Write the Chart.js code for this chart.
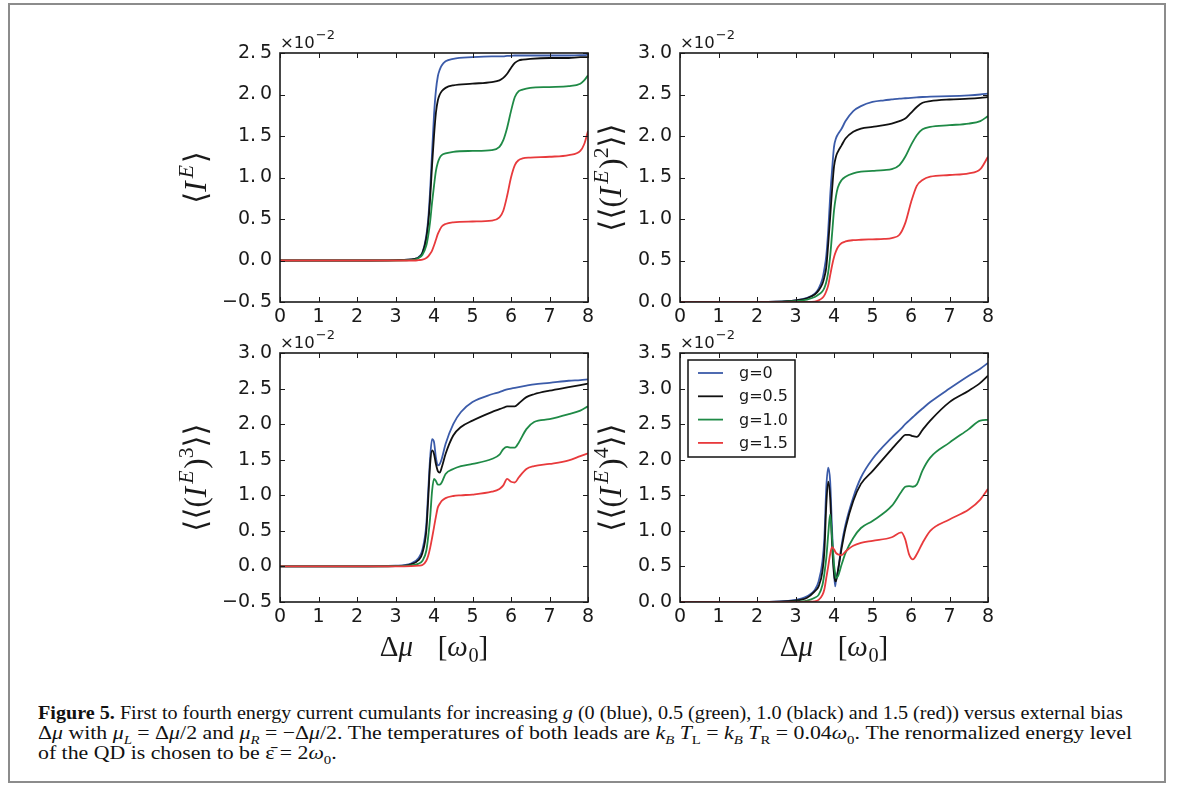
<!DOCTYPE html>
<html>
<head>
<meta charset="utf-8">
<script src="https://cdn.jsdelivr.net/npm/chart.js@4.4.1/dist/chart.umd.min.js"></script>
<style>
  body { margin: 0; background: #fff; width: 1182px; height: 785px; overflow: hidden; position: relative; }
  #frame { position: absolute; left: 8px; top: 3px; width: 1158px; height: 780px; border: 2px solid #8c8c8c; box-sizing: border-box; }
  canvas { position: absolute; }
  .cap { position: absolute; left: 38px; font-family: "Liberation Serif", serif; font-size: 19px; line-height: 20px; white-space: nowrap; transform-origin: 0 0; color: #111; }
  .cap sub { font-size: 68%; line-height: 0; }
</style>
</head>
<body>
<div id="frame"></div>
<canvas id="c1" width="433" height="309"></canvas>
<canvas id="c2" width="433" height="309"></canvas>
<canvas id="c3" width="433" height="349"></canvas>
<canvas id="c4" width="433" height="349"></canvas>

<div class="cap" id="cap1" style="top:703px"><b>Figure 5.</b> First to fourth energy current cumulants for increasing <i>g</i> (0 (blue), 0.5 (green), 1.0 (black) and 1.5 (red)) versus external bias</div>
<div class="cap" id="cap2" style="top:723px">Δ<i>μ</i> with <i>μ</i><sub><i>L</i></sub> = Δ<i>μ</i>/2 and <i>μ</i><sub><i>R</i></sub> = −Δ<i>μ</i>/2. The temperatures of both leads are <i>k</i><sub><i>B</i></sub> <i>T</i><sub>L</sub> = <i>k</i><sub><i>B</i></sub> <i>T</i><sub>R</sub> = 0.04<i>ω</i><sub>0</sub>. The renormalized energy level</div>
<div class="cap" id="cap3" style="top:743px">of the QD is chosen to be ε̄ = 2<i>ω</i><sub>0</sub>.</div>

<script>
// series, in legend order
const seriesLabels = ["g=0", "g=0.5", "g=1.0", "g=1.5"];
const seriesColors = ["#3b5ba9", "#111111", "#1f8a46", "#e83a3c"];

// <I^E>  (x10^-2)
const xMean = [0, 2, 3, 3.5, 3.6, 3.7, 3.8, 3.85, 3.9, 3.95, 4.0, 4.05, 4.1, 4.15, 4.2, 4.3, 4.5, 5.0, 5.5, 5.7, 5.8, 5.9, 6.0, 6.1, 6.2, 6.3, 6.5, 7.0, 7.5, 7.8, 7.9, 8.0];
const meanG0  = [0, 0, 0.005, 0.02, 0.04, 0.1, 0.3, 0.5, 0.85, 1.3, 1.75, 2.05, 2.22, 2.3, 2.35, 2.4, 2.43, 2.45, 2.46, 2.46, 2.46, 2.465, 2.465, 2.47, 2.47, 2.47, 2.47, 2.47, 2.47, 2.475, 2.475, 2.48];
const meanG05 = [0, 0, 0.005, 0.02, 0.035, 0.09, 0.27, 0.45, 0.75, 1.15, 1.5, 1.78, 1.93, 2.0, 2.04, 2.08, 2.11, 2.13, 2.15, 2.17, 2.2, 2.25, 2.32, 2.38, 2.41, 2.42, 2.43, 2.44, 2.44, 2.45, 2.45, 2.45];
const meanG10 = [0, 0, 0, 0.01, 0.03, 0.07, 0.18, 0.3, 0.47, 0.7, 0.9, 1.08, 1.18, 1.24, 1.27, 1.29, 1.31, 1.32, 1.33, 1.37, 1.45, 1.6, 1.8, 1.97, 2.04, 2.06, 2.08, 2.09, 2.1, 2.13, 2.17, 2.23];
const meanG15 = [0, 0, 0, 0, 0.005, 0.01, 0.03, 0.05, 0.08, 0.12, 0.18, 0.25, 0.32, 0.37, 0.41, 0.44, 0.46, 0.47, 0.48, 0.52, 0.6, 0.78, 1.0, 1.15, 1.21, 1.23, 1.24, 1.25, 1.27, 1.32, 1.4, 1.56];

// <<(I^E)^2>>
const xVar = [0, 2, 2.5, 3.0, 3.3, 3.5, 3.6, 3.7, 3.75, 3.8, 3.85, 3.9, 3.95, 4.0, 4.05, 4.1, 4.2, 4.3, 4.5, 4.7, 5.0, 5.3, 5.5, 5.7, 5.85, 6.0, 6.15, 6.3, 6.5, 7.0, 7.5, 7.8, 8.0];
const varG0  = [0, 0, 0.003, 0.02, 0.05, 0.1, 0.16, 0.28, 0.4, 0.56, 0.86, 1.27, 1.59, 1.87, 1.97, 2.02, 2.09, 2.18, 2.3, 2.36, 2.41, 2.43, 2.44, 2.45, 2.455, 2.46, 2.465, 2.47, 2.475, 2.48, 2.49, 2.5, 2.51];
const varG05 = [0, 0, 0.003, 0.02, 0.045, 0.09, 0.14, 0.22, 0.3, 0.42, 0.7, 1.02, 1.35, 1.63, 1.75, 1.81, 1.89, 1.97, 2.05, 2.09, 2.11, 2.13, 2.15, 2.18, 2.21, 2.28, 2.35, 2.4, 2.42, 2.44, 2.45, 2.46, 2.47];
const varG10 = [0, 0, 0, 0.01, 0.03, 0.06, 0.09, 0.13, 0.17, 0.24, 0.36, 0.55, 0.82, 1.1, 1.27, 1.38, 1.47, 1.51, 1.55, 1.57, 1.58, 1.59, 1.6, 1.65, 1.75, 1.89, 2.01, 2.08, 2.11, 2.13, 2.15, 2.18, 2.24];
const varG15 = [0, 0, 0, 0, 0, 0.005, 0.02, 0.05, 0.08, 0.13, 0.2, 0.32, 0.44, 0.54, 0.61, 0.66, 0.71, 0.73, 0.745, 0.75, 0.755, 0.76, 0.77, 0.81, 0.95, 1.2, 1.4, 1.47, 1.51, 1.53, 1.55, 1.6, 1.75];

// <<(I^E)^3>>
const xSkew = [0, 2, 3.0, 3.4, 3.6, 3.7, 3.8, 3.85, 3.9, 3.95, 4.0, 4.05, 4.1, 4.15, 4.2, 4.3, 4.5, 4.7, 5.0, 5.5, 5.7, 5.8, 5.9, 6.0, 6.1, 6.2, 6.4, 6.6, 7.0, 7.5, 7.8, 8.0];
const skewG0  = [0, 0, 0.01, 0.04, 0.12, 0.24, 0.59, 1.06, 1.53, 1.79, 1.75, 1.53, 1.42, 1.44, 1.51, 1.72, 2.0, 2.17, 2.31, 2.42, 2.45, 2.47, 2.49, 2.5, 2.51, 2.52, 2.54, 2.56, 2.58, 2.61, 2.62, 2.63];
const skewG05 = [0, 0, 0.005, 0.03, 0.09, 0.19, 0.5, 0.95, 1.44, 1.63, 1.58, 1.44, 1.34, 1.32, 1.39, 1.58, 1.84, 1.96, 2.05, 2.17, 2.21, 2.23, 2.25, 2.25, 2.25, 2.29, 2.38, 2.42, 2.47, 2.52, 2.55, 2.57];
const skewG10 = [0, 0, 0.003, 0.015, 0.04, 0.08, 0.22, 0.42, 0.69, 1.06, 1.23, 1.2, 1.15, 1.15, 1.18, 1.3, 1.37, 1.41, 1.44, 1.51, 1.57, 1.65, 1.68, 1.67, 1.67, 1.74, 1.93, 2.03, 2.07, 2.14, 2.19, 2.25];
const skewG15 = [0, 0, 0, 0.003, 0.01, 0.02, 0.08, 0.15, 0.26, 0.4, 0.55, 0.7, 0.83, 0.88, 0.92, 0.96, 0.99, 1.0, 1.01, 1.05, 1.09, 1.14, 1.23, 1.19, 1.18, 1.25, 1.37, 1.41, 1.44, 1.49, 1.55, 1.59];

// <<(I^E)^4>>
const xKurt = [0, 2, 3.0, 3.3, 3.5, 3.6, 3.7, 3.75, 3.8, 3.85, 3.9, 3.95, 4.0, 4.03, 4.05, 4.1, 4.2, 4.3, 4.5, 4.7, 5.0, 5.5, 5.75, 5.85, 5.95, 6.05, 6.15, 6.3, 6.5, 7.0, 7.5, 7.8, 8.0];
const kurtG0  = [0, 0, 0.03, 0.08, 0.17, 0.29, 0.57, 0.9, 1.61, 1.89, 1.7, 1.0, 0.43, 0.22, 0.3, 0.43, 0.81, 1.09, 1.47, 1.75, 2.01, 2.31, 2.44, 2.5, 2.55, 2.6, 2.65, 2.72, 2.81, 3.0, 3.18, 3.28, 3.36];
const kurtG05 = [0, 0, 0.02, 0.06, 0.15, 0.22, 0.43, 0.71, 1.37, 1.69, 1.47, 0.81, 0.39, 0.3, 0.29, 0.43, 0.76, 1.04, 1.42, 1.66, 1.84, 2.15, 2.3, 2.35, 2.35, 2.33, 2.32, 2.42, 2.55, 2.81, 2.97, 3.08, 3.18];
const kurtG10 = [0, 0, 0.005, 0.02, 0.06, 0.1, 0.24, 0.4, 0.62, 0.95, 1.23, 0.9, 0.53, 0.4, 0.34, 0.36, 0.53, 0.69, 0.9, 1.04, 1.14, 1.35, 1.55, 1.62, 1.63, 1.62, 1.65, 1.85, 2.03, 2.24, 2.43, 2.55, 2.56];
const kurtG15 = [0, 0, 0, 0.005, 0.01, 0.03, 0.1, 0.18, 0.34, 0.5, 0.67, 0.77, 0.74, 0.71, 0.69, 0.67, 0.66, 0.71, 0.79, 0.83, 0.86, 0.91, 0.98, 0.88, 0.67, 0.6, 0.67, 0.83, 1.0, 1.16, 1.3, 1.44, 1.59];

// [text, kind, extra gap after in em]
const xTitle = [["Δ", "r"], ["μ", "i", 0.1], ["   ", "r"], ["[", "r"], ["ω", "i", 0.02], ["0", "sub"], ["]", "r"]];

const Y_W = 110, PAD_TOP = 30, PAD_RIGHT = 15;

function mathFont(kind, size) {
  const small = kind === "sup" || kind === "supi" || kind === "sub";
  const px = small ? size * 0.7 : size;
  const it = kind === "i" || kind === "supi" ? "italic " : "";
  return it + px + "px 'Liberation Serif', 'DejaVu Serif', serif";
}

function mathShift(kind, size) {
  if (kind === "sup" || kind === "supi") return -size * 0.42;
  if (kind === "sub") return size * 0.2;
  return 0;
}

function segAdvance(ctx, s, size) {
  return ctx.measureText(s[0]).width + (s[2] || 0) * size;
}

function mathWidth(ctx, segs, size) {
  let w = 0;
  segs.forEach(s => { ctx.font = mathFont(s[1], size); w += segAdvance(ctx, s, size); });
  return w;
}

function drawMath(ctx, segs, size, x, y) {
  segs.forEach(s => {
    ctx.font = mathFont(s[1], size);
    ctx.fillText(s[0], x, y + mathShift(s[1], size));
    x += segAdvance(ctx, s, size);
  });
}

const axesDeco = {
  id: "axesDeco",
  afterDraw(chart, args, opts) {
    const ctx = chart.ctx;
    const a = chart.chartArea;
    const xs = chart.scales.x, ys = chart.scales.y;
    ctx.save();
    ctx.strokeStyle = "#1a1a1a";
    ctx.lineWidth = 1;
    ctx.beginPath();
    xs.ticks.forEach(t => {
      const p = Math.round(xs.getPixelForValue(t.value)) + 0.5;
      ctx.moveTo(p, a.bottom); ctx.lineTo(p, a.bottom - 5);
      ctx.moveTo(p, a.top); ctx.lineTo(p, a.top + 5);
    });
    ys.ticks.forEach(t => {
      const p = Math.round(ys.getPixelForValue(t.value)) + 0.5;
      ctx.moveTo(a.left, p); ctx.lineTo(a.left + 5, p);
      ctx.moveTo(a.right, p); ctx.lineTo(a.right - 5, p);
    });
    ctx.stroke();
    ctx.lineWidth = 1.6;
    ctx.strokeRect(a.left, a.top, a.right - a.left, a.bottom - a.top);

    ctx.fillStyle = "#1a1a1a";
    ctx.textAlign = "left";
    ctx.textBaseline = "alphabetic";
    // offset text
    ctx.font = "16.5px 'DejaVu Sans'";
    ctx.fillText("×10", a.left, a.top - 5);
    const w10 = ctx.measureText("×10").width;
    ctx.font = "13px 'DejaVu Sans'";
    ctx.fillText("−2", a.left + w10 + 1, a.top - 14);

    // y title, rotated
    const size = 31;
    const w = mathWidth(ctx, opts.yTitle, size);
    ctx.save();
    ctx.translate(opts.yTitleX, (a.top + a.bottom) / 2);
    ctx.rotate(-Math.PI / 2);
    drawMath(ctx, opts.yTitle, size, -w / 2, size * 0.3);
    ctx.restore();

    if (opts.xTitle) {
      const xs2 = 29;
      const wx = mathWidth(ctx, xTitle, xs2);
      drawMath(ctx, xTitle, xs2, (a.left + a.right) / 2 - wx / 2, a.bottom + 54);
    }

    if (opts.legend) {
      const lx = a.left + 8, ly = a.top + 7;
      ctx.fillStyle = "#fff";
      ctx.fillRect(lx, ly, 107, 97);
      ctx.lineWidth = 1.5;
      ctx.strokeStyle = "#111";
      ctx.strokeRect(lx, ly, 107, 97);
      ctx.font = "16px 'DejaVu Sans'";
      ctx.textBaseline = "middle";
      chart.data.datasets.forEach((ds, i) => {
        const ry = ly + 13 + i * 23.3;
        ctx.strokeStyle = ds.borderColor;
        ctx.lineWidth = 1.8;
        ctx.beginPath();
        ctx.moveTo(lx + 10, ry); ctx.lineTo(lx + 35, ry);
        ctx.stroke();
        ctx.fillStyle = "#1a1a1a";
        ctx.fillText(ds.label, lx + 51, ry + 1);
      });
    }
    ctx.restore();
  }
};

// matplotlib's old tick text leaves a gap after the point
function fmtTick(v) {
  const s = Math.abs(v).toFixed(1).replace(".", ".\u2009");
  return v < -1e-9 ? "−" + s : s;
}

function makeChart(id, left, top, xs, series, yMin, yMax, yTitle, yTitleX, bottom, legend) {
  const canvas = document.getElementById(id);
  canvas.style.left = (left - Y_W) + "px";
  canvas.style.top = (top - PAD_TOP) + "px";
  const xH = bottom ? 70 : 30;
  return new Chart(canvas, {
    type: "line",
    data: {
      datasets: series.map((ys, i) => ({
        label: seriesLabels[i],
        data: xs.map((x, j) => ({ x: x, y: ys[j] })),
        borderColor: seriesColors[i],
        borderWidth: 1.8,
        pointRadius: 0,
        cubicInterpolationMode: "monotone",
        fill: false,
        order: 3 - i
      }))
    },
    options: {
      responsive: false,
      animation: false,
      devicePixelRatio: 1,
      layout: { padding: { top: PAD_TOP, right: PAD_RIGHT, left: 0, bottom: 0 } },
      plugins: {
        legend: { display: false },
        tooltip: { enabled: false },
        axesDeco: { yTitle: yTitle, yTitleX: yTitleX - (left - Y_W), xTitle: bottom, legend: legend }
      },
      scales: {
        x: {
          type: "linear",
          min: 0,
          max: 8,
          grid: { display: false, drawTicks: false },
          border: { display: false },
          ticks: { stepSize: 1, padding: 4, color: "#1a1a1a", font: { family: "DejaVu Sans", size: 19 } },
          afterFit(s) { s.height = xH; }
        },
        y: {
          min: yMin,
          max: yMax,
          grid: { display: false, drawTicks: false },
          border: { display: false },
          ticks: { stepSize: 0.5, padding: 8, color: "#1a1a1a", font: { family: "DejaVu Sans", size: 19 }, callback: fmtTick },
          afterFit(s) { s.width = Y_W; }
        }
      }
    },
    plugins: [axesDeco]
  });
}

const titleMean = [["⟨", "r"], ["I", "i", 0.1], ["E", "supi", 0.06], ["⟩", "r"]];
const titleCum = n => [["⟨⟨(", "r"], ["I", "i", 0.1], ["E", "supi", 0.06], [")", "r"], [n, "sup"], ["⟩⟩", "r"]];

makeChart("c1", 280, 53, xMean, [meanG0, meanG05, meanG10, meanG15], -0.5, 2.5, titleMean, 197, false, false);
makeChart("c2", 680, 53, xVar, [varG0, varG05, varG10, varG15], 0, 3.0, titleCum("2"), 612, false, false);
makeChart("c3", 280, 353, xSkew, [skewG0, skewG05, skewG10, skewG15], -0.5, 3.0, titleCum("3"), 197, true, false);
makeChart("c4", 680, 353, xKurt, [kurtG0, kurtG05, kurtG10, kurtG15], 0, 3.5, titleCum("4"), 612, true, true);

// squeeze caption lines to the measured widths of the original
[["cap1", 1085], ["cap2", 1094]].forEach(([id, target]) => {
  const el = document.getElementById(id);
  el.style.transform = "scaleX(" + (target / el.offsetWidth) + ")";
  if (id === "cap2") document.getElementById("cap3").style.transform = el.style.transform;
});
</script>
</body>
</html>
